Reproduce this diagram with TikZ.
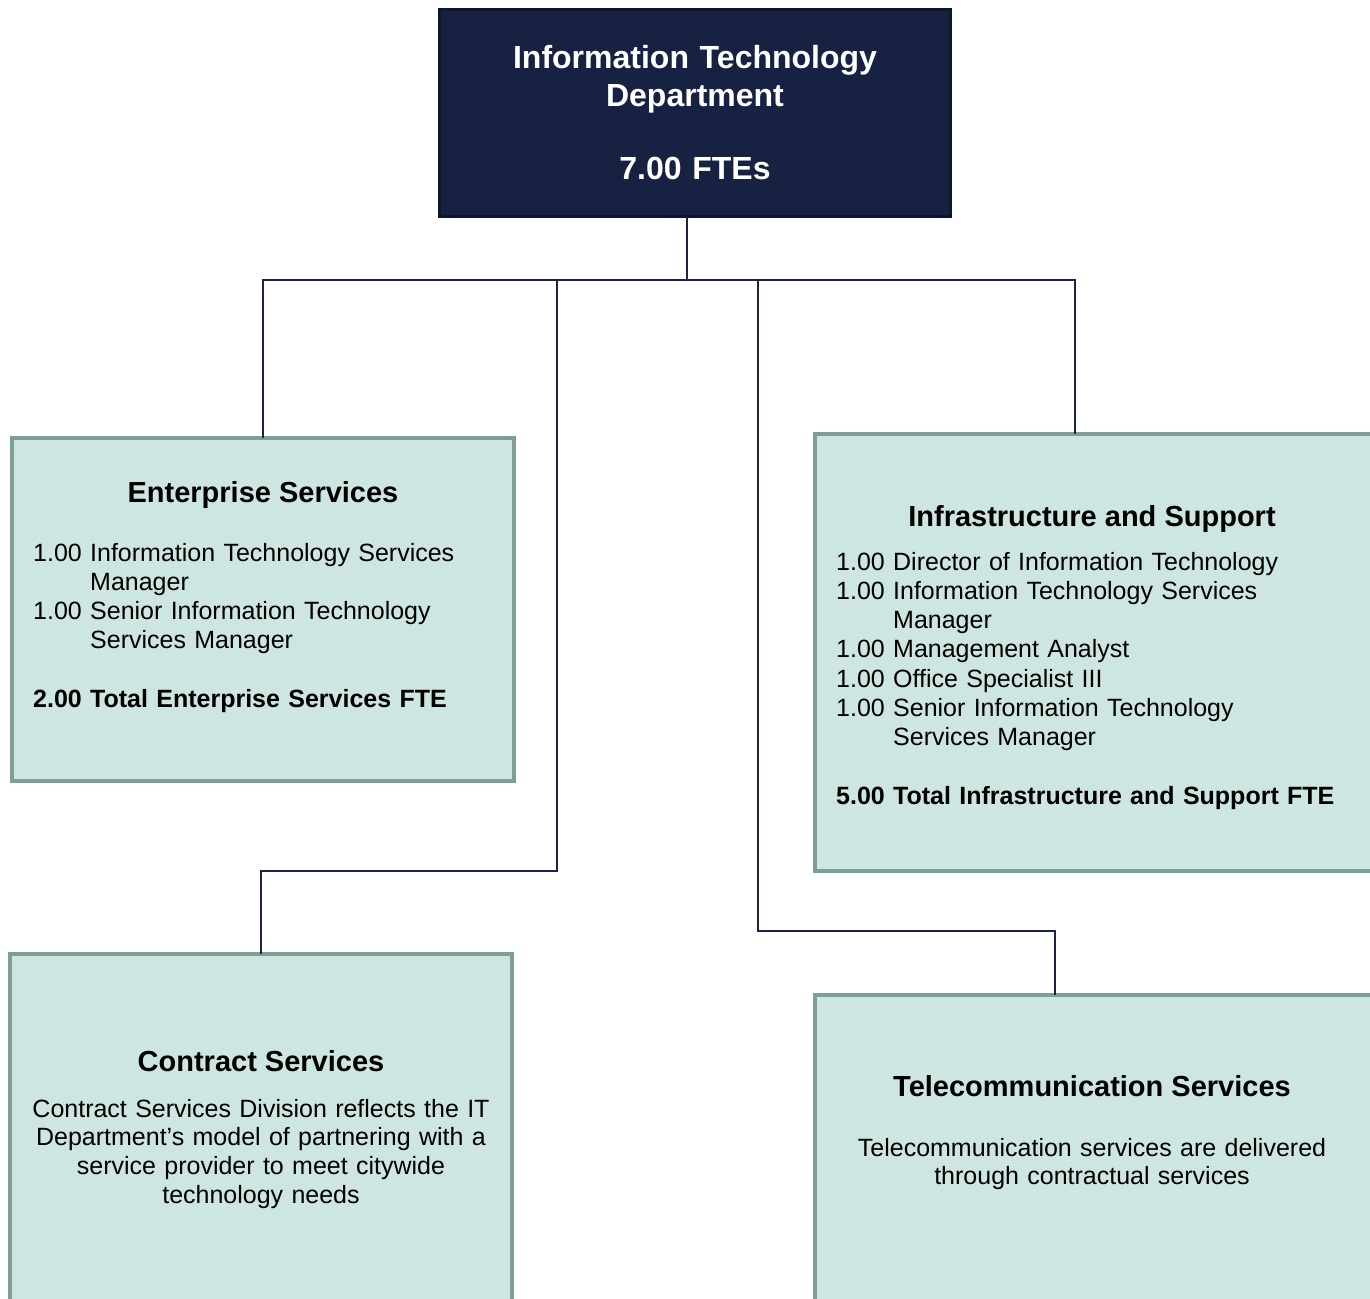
\documentclass[tikz,border=0pt]{standalone}
\usepackage{fontspec}
\setmainfont{Liberation Sans}
\usetikzlibrary{positioning}
\definecolor{navy}{HTML}{172243}
\definecolor{navyedge}{HTML}{0F172E}
\definecolor{unitfill}{HTML}{CDE6E1}
\definecolor{unitedge}{HTML}{7E9E98}
\definecolor{linkcol}{HTML}{1B2444}
\tikzset{
  unit/.style={draw=unitedge,line width=4pt,fill=unitfill,anchor=north west,inner sep=0pt,outer sep=0pt},
  head/.style={font=\fontsize{29}{34}\selectfont\bfseries,anchor=base,inner sep=0pt},
  body/.style={font=\fontsize{25}{29.3}\selectfont,inner sep=0pt,anchor=base west,text width=540pt,align=left},
  note/.style={font=\fontsize{25}{28.7}\selectfont,inner sep=0pt,anchor=base,text width=500pt,align=center},
  link/.style={draw=linkcol,line width=1.6pt},
}
\begin{document}
\begin{tikzpicture}[x=1pt,y=-1pt]
\useasboundingbox (0,0) rectangle (1370,1298);
\clip (0,0) rectangle (1370,1298);
% department
\node[draw=navyedge,line width=3pt,fill=navy,anchor=north west,inner sep=0pt,outer sep=0pt,minimum width=511pt,minimum height=207pt] (itd) at (439.5,9.5) {};
\node[anchor=base,inner sep=0pt,text=white,text width=500pt,align=center,font=\fontsize{32}{37}\selectfont\bfseries] (itdtext) at (695,69) {Information Technology\\Department\\[37pt]7.00 FTEs};
% divisions
\node[unit,minimum width=502pt,minimum height=343pt] (ent) at (12,438) {};
\node[unit,minimum width=559pt,minimum height=437pt] (inf) at (815,434) {};
\node[unit,minimum width=502pt,minimum height=380pt] (con) at (10,954) {};
\node[unit,minimum width=559pt,minimum height=340pt] (tel) at (815,995) {};
\node[head] (enthead) at (263,502) {Enterprise Services};
\node[head] (infhead) at (1092,526) {Infrastructure and Support};
\node[head] (conhead) at (261,1071) {Contract Services};
\node[head] (telhead) at (1092,1096) {Telecommunication Services};
\node[body] (entlist) at (33,561) {1.00 Information Technology Services\\\hphantom{1.00 }Manager\\1.00 Senior Information Technology\\\hphantom{1.00 }Services Manager\\[29.3pt]\textbf{2.00 Total Enterprise Services FTE}};
\node[body] (inflist) at (836,570) {1.00 Director of Information Technology\\1.00 Information Technology Services\\\hphantom{1.00 }Manager\\1.00 Management Analyst\\1.00 Office Specialist III\\1.00 Senior Information Technology\\\hphantom{1.00 }Services Manager\\[29.3pt]\textbf{5.00 Total Infrastructure and Support FTE}};
\node[note] (connote) at (261,1117) {Contract Services Division reflects the IT\\Department’s model of partnering with a\\service provider to meet citywide\\technology needs};
\node[note] (telnote) at (1092,1156) {Telecommunication services are delivered\\through contractual services};
% connectors
\coordinate (bus) at (687,280);
\coordinate (conbend) at (557,871);
\coordinate (telbend) at (758,931);
\draw[link] (bus |- itd.south) -- (bus);
\draw[link] (bus) -| (ent.north);
\draw[link] (bus) -| ([xshift=260pt]inf.north west);
\draw[link] (bus) -| (conbend) -| (con.north);
\draw[link] (bus) -| (telbend) -| ([xshift=240pt]tel.north west);
\end{tikzpicture}
\end{document}
